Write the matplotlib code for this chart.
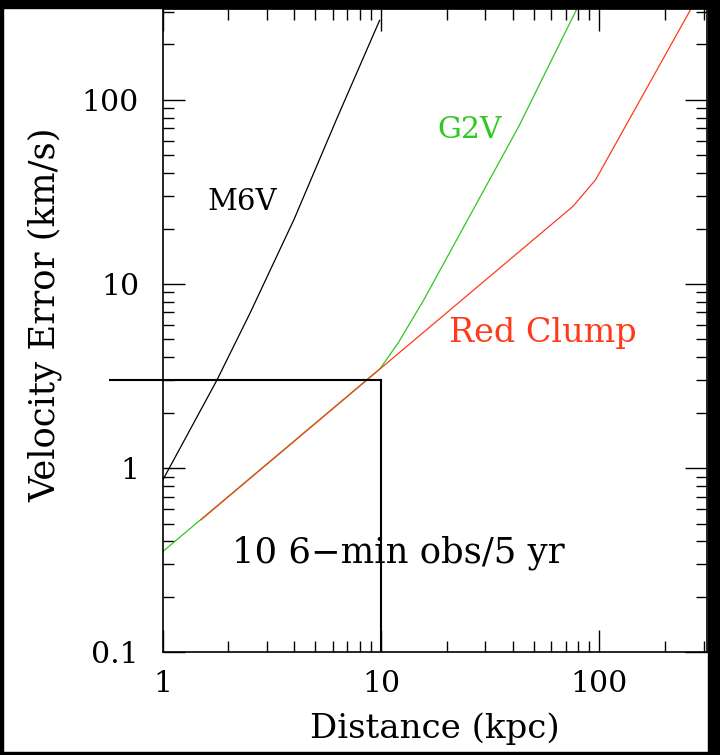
import matplotlib
matplotlib.use("Agg")
import matplotlib.pyplot as plt
from matplotlib.patches import Rectangle

# values (kpc, km/s)
m6v_dist = [1.0, 1.77, 2.52, 4.0, 6.3, 9.85]
m6v_err = [0.86, 3.0, 7.0, 22.5, 80.0, 270.0]

g2v_dist = [1.0, 9.9, 12.0, 15.7, 42.8, 79.3]
g2v_err = [0.352, 3.47, 4.8, 8.2, 72.0, 316.0]

rc_dist = [1.5, 75.7, 96.2, 262.0]
rc_err = [0.525, 26.4, 36.9, 310.0]

# requirement box: 3 km/s at 10 kpc
req_dist = 10.0
req_err = 3.0

x_ticks = [1, 10, 100]
x_ticklabels = ["1", "10", "100"]
y_ticks = [0.1, 1, 10, 100]
y_ticklabels = ["0.1", "1", "10", "100"]

plt.rcParams["font.family"] = ["DejaVu Serif"]
plt.rcParams["font.size"] = 21.5

W, H = 720, 755
fig = plt.figure(figsize=(W / 100, H / 100), dpi=100)
ax = fig.add_axes([162.7 / W, 1 - 652.3 / H, 544.0 / W, 643.0 / H])

green = "#2ec81e"
red = "#ff3a1a"

ax.plot(m6v_dist, m6v_err, color="black", lw=0.9)
ax.plot(g2v_dist, g2v_err, color=green, lw=0.9)
ax.plot(rc_dist, rc_err, color=red, lw=0.9)

# box lines
ax.plot([0.573, req_dist], [req_err, req_err], color="black", lw=1.5, clip_on=False)
ax.plot([req_dist, req_dist], [0.1, req_err], color="black", lw=1.5)

ax.set_xscale("log")
ax.set_yscale("log")
ax.set_xlim(1, 310)
ax.set_ylim(0.1, 310)

ax.set_xticks(x_ticks)
ax.set_xticklabels(x_ticklabels)
ax.set_yticks(y_ticks)
ax.set_yticklabels(y_ticklabels)

ax.tick_params(which="both", direction="in", top=True, right=True, width=1.0)
ax.tick_params(which="major", length=15.8)
ax.tick_params(which="minor", length=7.9)
ax.tick_params(axis="x", which="major", pad=13)
ax.tick_params(axis="y", which="major", pad=17)
for s in ax.spines.values():
    s.set_linewidth(1.2)

ax.text(1.61, 25.3, "M6V", color="black", ha="left", va="baseline", fontsize=21)
ax.text(18.1, 62.4, "G2V", color=green, ha="left", va="baseline")
ax.text(20.4, 4.86, "Red Clump", color=red, ha="left", va="baseline", fontsize=24)
ax.text(2.08, 0.306, "10 6\u2212min obs/5 yr", color="black", ha="left", va="baseline",
        fontsize=25.5)

ax.set_xlabel("Distance (kpc)", fontsize=24.5, va="baseline")
ax.set_ylabel("Velocity Error (km/s)", fontsize=25.5, va="baseline")
ax.xaxis.set_label_coords(0.5, (652.3 - 738) / 643.0)
ax.yaxis.set_label_coords((55 - 162.7) / 544.0, (652.3 - 315) / 643.0)

# black frame around the picture
for (x0, y0, w, h) in [(0, H - 7.5, W, 7.5), (0, 0, 3.3, H), (708, 0, 12, H), (0, 0, W, 3)]:
    fig.add_artist(Rectangle((x0 / W, y0 / H), w / W, h / H, transform=fig.transFigure,
                             color="black", zorder=10))

fig.savefig("out.png", dpi=100)
